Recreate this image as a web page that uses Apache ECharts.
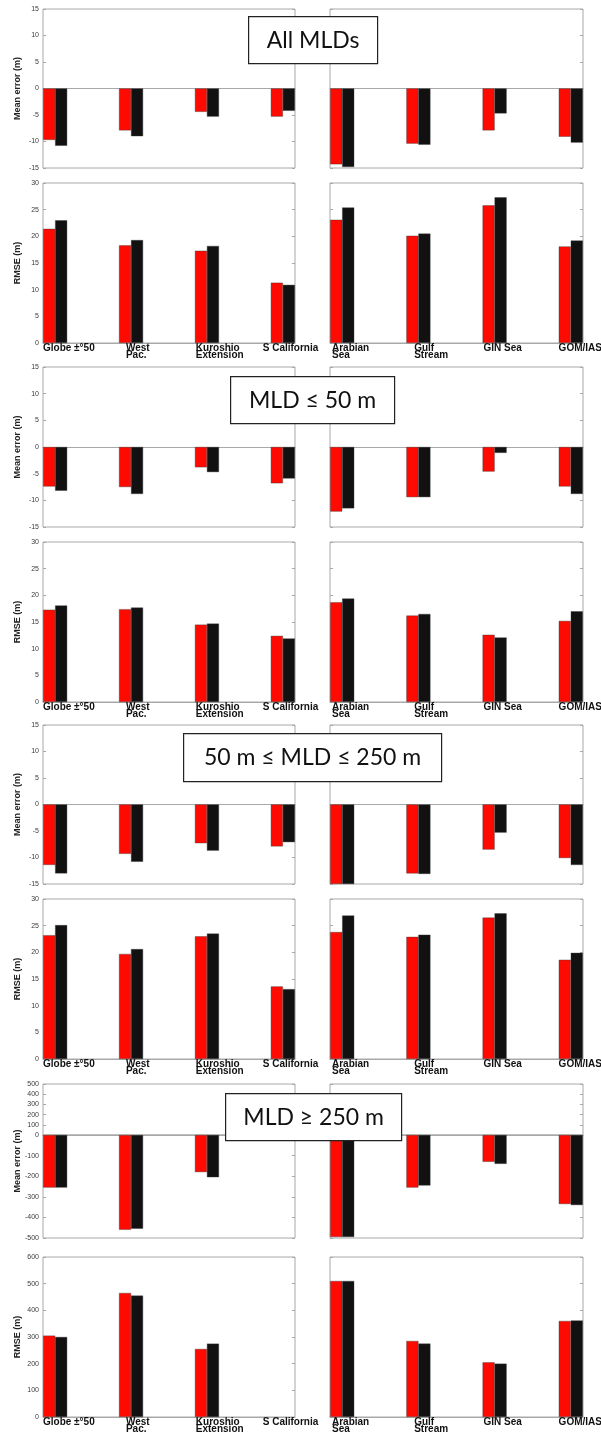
<!DOCTYPE html>
<html>
<head>
<meta charset="utf-8">
<script src="https://cdn.jsdelivr.net/npm/echarts@6/dist/echarts.min.js"></script>
<style>
  html, body { margin: 0; padding: 0; background: #fff; }
  #chart { width: 601px; height: 1446px; }
</style>
</head>
<body>
<div id="chart"></div>
<script>
// Regions, left and right panel of every row
const regionsLeft = ['Globe ±°50', 'West\nPac.', 'Kuroshio\nExtension', 'S California'];
const regionsRight = ['Arabian\nSea', 'Gulf\nStream', 'GIN Sea', 'GOM/IAS'];

// MLD classes shown as boxed headings
const classTitles = ['All MLDs', 'MLD ≤ 50 m', '50 m ≤ MLD ≤ 250 m', 'MLD ≥ 250 m'];

// Values: first four = left regions, last four = right regions (red / black runs)
const allMeanRed    = [-9.7, -7.9, -4.4, -5.3, -14.3, -10.4, -7.9, -9.1];
const allMeanBlack  = [-10.8, -9.0, -5.3, -4.2, -14.8, -10.6, -4.7, -10.2];
const allRmseRed    = [21.4, 18.3, 17.3, 11.3, 23.1, 20.1, 25.8, 18.1];
const allRmseBlack  = [23.0, 19.3, 18.2, 10.9, 25.4, 20.5, 27.3, 19.2];

const shallowMeanRed   = [-7.4, -7.5, -3.8, -6.8, -12.1, -9.4, -4.6, -7.4];
const shallowMeanBlack = [-8.2, -8.8, -4.7, -5.9, -11.5, -9.4, -1.1, -8.8];
const shallowRmseRed   = [17.3, 17.4, 14.5, 12.4, 18.7, 16.2, 12.6, 15.2];
const shallowRmseBlack = [18.1, 17.7, 14.7, 11.9, 19.4, 16.5, 12.1, 17.0];

const midMeanRed   = [-11.4, -9.3, -7.3, -7.9, -15.0, -13.0, -8.5, -10.1];
const midMeanBlack = [-13.0, -10.8, -8.7, -7.1, -15.0, -13.1, -5.3, -11.4];
const midRmseRed   = [23.2, 19.7, 23.0, 13.6, 23.8, 22.9, 26.5, 18.6];
const midRmseBlack = [25.1, 20.6, 23.5, 13.1, 26.9, 23.3, 27.3, 19.9];

const deepMeanRed   = [-255, -460, -180, null, -495, -255, -130, -335];
const deepMeanBlack = [-255, -455, -205, null, -495, -245, -140, -340];
const deepRmseRed   = [305, 465, 255, null, 510, 285, 205, 360];
const deepRmseBlack = [300, 455, 275, null, 510, 275, 200, 362];

// Y scales; the deep mean-error axis is drawn in two parts (positive part compressed)
const meanScale = { min: -15, max: 15, interval: 5 };
const rmseScale = { min: 0, max: 30, interval: 5 };
const deepMeanUpper = { min: 0, max: 500, interval: 100 };
const deepMeanLower = { min: -500, max: 0, interval: 100 };
const deepRmseScale = { min: 0, max: 600, interval: 100 };

// Layout of the panel frames: [top, bottom] in px, plus the two columns
const colBox = [[43, 295], [330, 583]];
const labelShift = [[0, 7, 1, -8], [2, 8, 1, 0]];   // px nudges of the region labels
const rows = [
  { name: 'Mean error (m)', red: allMeanRed, black: allMeanBlack, labels: false,
    parts: [{ box: [9, 168], scale: meanScale, bars: true }] },
  { name: 'RMSE (m)', red: allRmseRed, black: allRmseBlack, labels: true,
    parts: [{ box: [183, 343], scale: rmseScale, bars: true }] },
  { name: 'Mean error (m)', red: shallowMeanRed, black: shallowMeanBlack, labels: false,
    parts: [{ box: [367, 527], scale: meanScale, bars: true }] },
  { name: 'RMSE (m)', red: shallowRmseRed, black: shallowRmseBlack, labels: true,
    parts: [{ box: [542, 702], scale: rmseScale, bars: true }] },
  { name: 'Mean error (m)', red: midMeanRed, black: midMeanBlack, labels: false,
    parts: [{ box: [725, 884], scale: meanScale, bars: true }] },
  { name: 'RMSE (m)', red: midRmseRed, black: midRmseBlack, labels: true,
    parts: [{ box: [899, 1059], scale: rmseScale, bars: true }] },
  { name: 'Mean error (m)', red: deepMeanRed, black: deepMeanBlack, labels: false,
    parts: [{ box: [1084, 1135], scale: deepMeanUpper, bars: false },
            { box: [1135, 1238], scale: deepMeanLower, bars: true, hideMax: true }] },
  { name: 'RMSE (m)', red: deepRmseRed, black: deepRmseBlack, labels: true,
    parts: [{ box: [1257, 1417], scale: deepRmseScale, bars: true }] }
];
const xPad = 0.16;   // half a bar pair, in category units

const titleBoxes = [
  { x: 248, y: 16, w: 129, h: 47 },
  { x: 230, y: 376, w: 164, h: 47 },
  { x: 183, y: 733, w: 258, h: 48 },
  { x: 225, y: 1093, w: 176, h: 47 }
];

const RED = '#ff0a00';
const BLACK = '#111111';
const FRAME = '#a8a8a8';
const FONT = 'Liberation Sans, Arial, sans-serif';
const nameStyle = { fontSize: 9, fontWeight: 'bold', color: '#222', fontFamily: FONT };

const grid = [], xAxis = [], yAxis = [], series = [];

function addGrid(left, top, width, height, framed) {
  grid.push({ left, top, width, height, outerBoundsMode: 'none',
              show: framed, borderColor: FRAME, borderWidth: 1, backgroundColor: 'transparent' });
  return grid.length - 1;
}

rows.forEach(row => {
  const rowTop = row.parts[0].box[0];
  const rowBottom = row.parts[row.parts.length - 1].box[1];
  [0, 1].forEach(side => {
    const names = side === 0 ? regionsLeft : regionsRight;
    const left = colBox[side][0], width = colBox[side][1] - colBox[side][0];
    const pxPerUnit = width / (3 + 2 * xPad);
    const labelAt = [0, 1, 2, 3].map(i => i - xPad + labelShift[side][i] / pxPerUnit);

    // axis title spanning the whole panel height
    if (side === 0) {
      const gi = addGrid(left, rowTop, width, rowBottom - rowTop, false);
      xAxis.push({ type: 'value', gridIndex: gi, show: false });
      yAxis.push({ type: 'value', gridIndex: gi, name: row.name, nameLocation: 'middle', nameGap: 21,
                   nameTextStyle: nameStyle, axisLine: { show: false }, axisTick: { show: false },
                   axisLabel: { show: false }, splitLine: { show: false } });
    }

    row.parts.forEach((part, p) => {
      const gi = addGrid(left, part.box[0], width, part.box[1] - part.box[0], true);
      const isBottom = p === row.parts.length - 1;
      xAxis.push({
        type: 'value', gridIndex: gi, min: -xPad, max: 3 + xPad,
        axisLine: { show: true, onZero: true, lineStyle: { color: FRAME, width: 1 } },
        axisTick: { show: false },
        splitLine: { show: false },
        axisLabel: {
          show: row.labels && isBottom,
          customValues: labelAt,
          formatter: v => names[Math.round(v + xPad)] || '',
          align: 'left', verticalAlign: 'top', margin: 2,
          fontSize: 10, fontWeight: 'bold', lineHeight: 7,
          fontFamily: FONT, color: '#111'
        }
      });
      const s = part.scale;
      const yi = yAxis.length;
      const tick = { show: true, inside: true, length: 3, lineStyle: { color: FRAME } };
      yAxis.push({
        type: 'value', gridIndex: gi, position: 'left', min: s.min, max: s.max, interval: s.interval,
        axisLine: { show: false, onZero: false },
        axisTick: tick,
        splitLine: { show: false },
        axisLabel: { show: side === 0, showMaxLabel: !part.hideMax,
                     fontSize: 7, color: '#3a3a3a', margin: 4, fontFamily: FONT }
      });
      yAxis.push({
        type: 'value', gridIndex: gi, position: 'right', min: s.min, max: s.max, interval: s.interval,
        axisLine: { show: false, onZero: false },
        axisTick: tick,
        splitLine: { show: false },
        axisLabel: { show: false }
      });
      if (!part.bars) return;
      const off = side * 4;
      [['red', RED], ['black', BLACK]].forEach(([key, color]) => {
        series.push({
          type: 'bar', xAxisIndex: gi, yAxisIndex: yi,
          barWidth: 12, barGap: '0%',
          itemStyle: { color, borderColor: '#3a3a3a', borderWidth: 0.4 },
          data: row[key].slice(off, off + 4).map((v, i) => [i, v]),
          animation: false
        });
      });
    });
  });
});

// Boxed class headings, on their own layer above the panels
const graphic = classTitles.map((t, i) => {
  const b = titleBoxes[i];
  return {
    type: 'group', left: b.x, top: b.y, zlevel: 1, z: 100,
    children: [
      { type: 'rect', zlevel: 1, z: 100, shape: { x: 0, y: 0, width: b.w, height: b.h },
        style: { fill: '#fff', stroke: '#222', lineWidth: 1.2 } },
      { type: 'text', zlevel: 1, z: 101, x: b.w / 2, y: b.h / 2,
        style: { text: t, font: '23px Lato, "Open Sans", sans-serif', fill: '#111',
                 textAlign: 'center', textVerticalAlign: 'middle' } }
    ]
  };
});

const chart = echarts.init(document.getElementById('chart'), null, { renderer: 'canvas' });
chart.setOption({ animation: false, grid, xAxis, yAxis, series, graphic });
</script>
</body>
</html>
